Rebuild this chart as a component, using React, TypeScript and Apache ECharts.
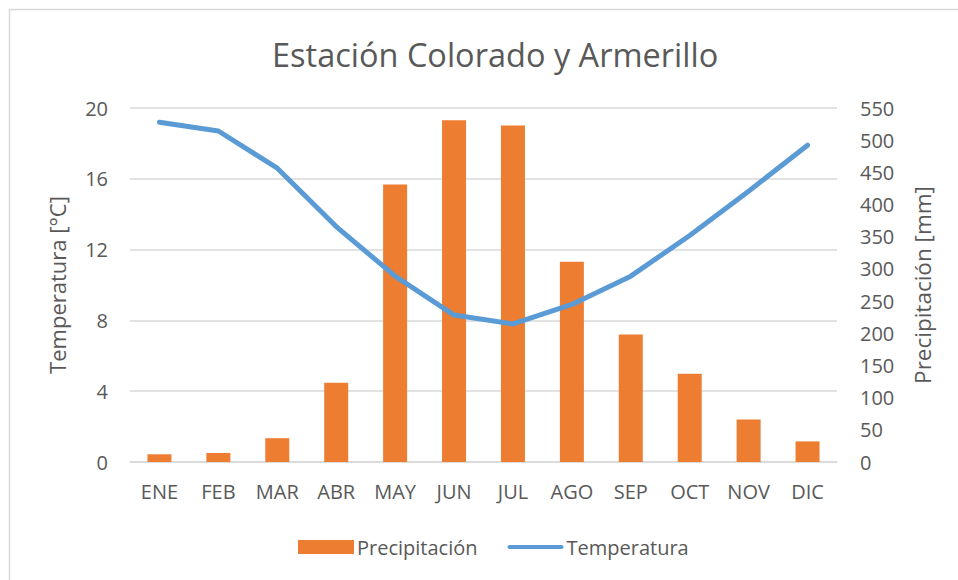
import React, { useEffect, useRef } from "react";
import * as echarts from "echarts";

const months = ["ENE", "FEB", "MAR", "ABR", "MAY", "JUN", "JUL", "AGO", "SEP", "OCT", "NOV", "DIC"];
const precipitation = [12, 14, 37, 123, 431, 531, 523, 311, 198, 137, 66, 32];
const temperature = [19.2, 18.7, 16.6, 13.3, 10.5, 8.3, 7.8, 8.9, 10.5, 12.8, 15.3, 17.9];
const tempTicks = { min: 0, max: 20, interval: 4 };
const precTicks = { min: 0, max: 550, interval: 50 };

const FONT = "'Open Sans', 'Noto Sans', sans-serif";
const TEXT = "#595959";
const GRID = "#d9d9d9";
const LINE_ICON = "path://M2,0 L55,0 A2,2 0 0 1 55,4 L2,4 A2,2 0 0 1 2,0 Z";

export default function App() {
  const ref = useRef<HTMLDivElement>(null);

  useEffect(() => {
    if (!ref.current) return;
    const chart = echarts.init(ref.current, null, { renderer: "svg" });
    chart.setOption({
      animation: false,
      backgroundColor: "#ffffff",
      textStyle: { fontFamily: FONT },
      title: {
        text: "Estación Colorado y Armerillo",
        left: 267,
        top: 33,
        textStyle: { fontFamily: FONT, fontSize: 32.5, fontWeight: "normal", color: TEXT },
      },
      graphic: [
        {
          type: "rect",
          shape: { x: 9.5, y: 9.5, width: 1000, height: 1000 },
          style: { fill: "none", stroke: GRID, lineWidth: 1.5 },
          silent: true,
        },
      ],
      legend: {
        left: 293,
        top: 532,
        itemGap: 30,
        itemWidth: 56,
        itemHeight: 14,
        textStyle: { fontFamily: FONT, fontSize: 20, color: TEXT, padding: [0, 0, 0, -2] },
        data: [
          { name: "Precipitación", icon: "rect" },
          { name: "Temperatura", icon: LINE_ICON, itemStyle: { color: "#5B9BD5" } },
        ],
      },
      grid: { left: 130, right: 121, top: 108, bottom: 118, containLabel: false },
      xAxis: {
        type: "category",
        data: months,
        axisLine: { show: true, lineStyle: { color: GRID, width: 1.5 } },
        axisTick: { show: false },
        axisLabel: { color: TEXT, fontSize: 20, fontFamily: FONT, margin: 19 },
      },
      yAxis: [
        {
          type: "value",
          ...tempTicks,
          name: "Temperatura [°C]",
          nameLocation: "middle",
          nameGap: 62,
          nameRotate: 90,
          nameTextStyle: { color: TEXT, fontSize: 22, fontFamily: FONT },
          axisLine: { show: false },
          axisTick: { show: false },
          axisLabel: { color: TEXT, fontSize: 20, fontFamily: FONT, margin: 22 },
          splitLine: { show: true, lineStyle: { color: GRID, width: 1.5 } },
        },
        {
          type: "value",
          ...precTicks,
          position: "right",
          name: "Precipitación [mm]",
          nameLocation: "middle",
          nameGap: 74,
          nameRotate: 90,
          nameTextStyle: { color: TEXT, fontSize: 22.5, fontFamily: FONT },
          axisLine: { show: false },
          axisTick: { show: false },
          axisLabel: { color: TEXT, fontSize: 20, fontFamily: FONT, margin: 23 },
          splitLine: { show: false },
        },
      ],
      series: [
        {
          name: "Precipitación",
          type: "bar",
          yAxisIndex: 1,
          data: precipitation,
          barWidth: 24,
          itemStyle: { color: "#ED7D31" },
        },
        {
          name: "Temperatura",
          type: "line",
          yAxisIndex: 0,
          data: temperature,
          symbol: "none",
          lineStyle: { color: "#5B9BD5", width: 5, cap: "round", join: "round" },
          itemStyle: { color: "#5B9BD5" },
        },
      ],
    });
    return () => chart.dispose();
  }, []);

  return (
    <div
      ref={ref}
      style={{ position: "fixed", left: 0, top: 0, width: 958, height: 580 }}
    />
  );
}
